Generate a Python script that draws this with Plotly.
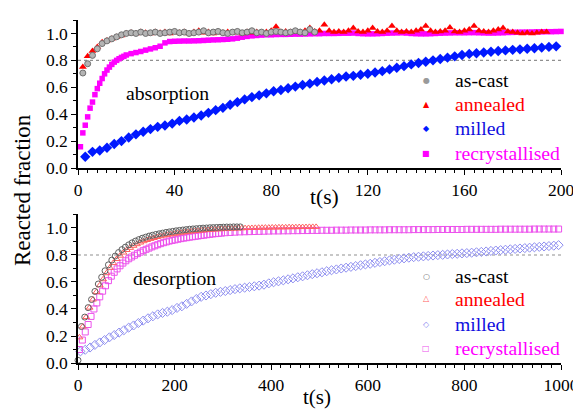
import plotly.graph_objects as go

# ---------------- data: absorption (top) ----------------
ABS_ASCAST_T0, ABS_ASCAST_DT = 2, 2
abs_ascast = [0.706, 0.775, 0.837, 0.886, 0.925, 0.945, 0.96, 0.975, 0.99, 1.0,
              1.005, 1.0, 1.01, 1.0, 1.005, 1.01, 1.0, 1.005, 1.01, 1.015,
              1.005, 1.01, 1.0, 1.005, 1.01, 1.02, 1.005, 1.01, 1.015, 1.005,
              1.0, 1.01, 1.015, 1.005, 1.01, 1.02, 1.005, 1.01, 1.0, 1.01,
              1.015, 1.01, 1.005, 1.01, 1.02, 1.01, 1.005, 1.03, 1.01]

ABS_ANNEALED_T0, ABS_ANNEALED_DT = 2, 2
abs_annealed = [0.75, 0.83, 0.87, 0.90, 0.935, 0.948, 0.96, 0.973, 0.985, 1.0,
                1.005, 1.0, 1.01, 1.005, 1.0, 1.01, 1.005, 1.01, 1.0, 1.01,
                1.005, 1.01, 1.0, 1.01, 1.02, 1.005, 1.01, 1.0, 1.01, 1.005,
                1.01, 1.005, 1.01, 1.0, 1.01, 1.005, 1.01, 1.005, 1.01, 1.02,
                1.05, 1.01, 1.015, 1.01, 1.015, 1.01, 1.02, 1.04, 1.015, 1.02,
                1.065, 1.02, 1.01, 1.015, 1.01, 1.02, 1.04, 1.015, 1.01, 1.02,
                1.04, 1.015, 1.01, 1.02, 1.055, 1.02, 1.01, 1.015, 1.01, 1.02,
                1.03, 1.055, 1.02, 1.01, 1.015, 1.02, 1.045, 1.015, 1.01, 1.02,
                1.03, 1.055, 1.02, 1.015, 1.01, 1.02, 1.03, 1.04, 1.015, 1.01,
                1.005, 1.0, 1.005, 1.0, 1.005, 1.01, 1.01]

ABS_MILLED_T0, ABS_MILLED_DT = 3, 3
abs_milled = [0.084, 0.12, 0.13, 0.15, 0.178, 0.20, 0.227, 0.25, 0.27, 0.289,
              0.306, 0.316, 0.33, 0.35, 0.36, 0.375, 0.39, 0.41, 0.43, 0.447,
              0.47, 0.49, 0.51, 0.527, 0.54, 0.555, 0.57, 0.58, 0.593, 0.605,
              0.617, 0.627, 0.64, 0.65, 0.66, 0.67, 0.68, 0.685, 0.693, 0.70,
              0.71, 0.72, 0.733, 0.745, 0.757, 0.77, 0.78, 0.79, 0.80, 0.81,
              0.82, 0.83, 0.84, 0.848, 0.853, 0.858, 0.864, 0.87, 0.874, 0.878,
              0.882, 0.886, 0.89, 0.895, 0.90, 0.904]

ABS_RECRYST_EARLY_T0, ABS_RECRYST_EARLY_DT = 1, 1
abs_recryst_early = [0.158, 0.261, 0.318, 0.38, 0.445, 0.49, 0.545, 0.59, 0.63, 0.665,
                     0.70, 0.728, 0.75, 0.77, 0.787, 0.80, 0.812, 0.822, 0.83, 0.84]
ABS_RECRYST_LATE_T0, ABS_RECRYST_LATE_DT = 22, 2
abs_recryst_late = [0.85, 0.858, 0.866, 0.876, 0.885, 0.894, 0.905, 0.93, 0.94, 0.942,
                    0.943, 0.944, 0.944, 0.945, 0.946, 0.948, 0.95, 0.952, 0.953, 0.955,
                    0.957, 0.96, 0.965, 0.972, 0.978, 0.982, 0.985, 0.988, 0.99, 0.99,
                    0.992, 0.993, 0.993, 0.994, 0.995, 0.995, 0.996, 0.997, 0.998, 0.998,
                    1.0, 1.0, 1.0, 1.001, 1.002, 1.002, 1.003, 1.0, 0.998, 0.997,
                    0.997, 0.998, 1.0, 1.002, 1.003, 1.004, 1.005, 1.003, 1.0, 0.998,
                    0.997, 0.997, 0.998, 1.0, 1.002, 1.003, 1.004, 1.005, 1.005, 1.005,
                    1.006, 1.006, 1.005, 1.004, 1.003, 1.003, 1.004, 1.005, 1.007, 1.008,
                    1.009, 1.01, 1.01, 1.011, 1.012, 1.012, 1.013, 1.013, 1.014, 1.015]

# ---------------- data: desorption (bottom) ----------------
DES_ASCAST_T0, DES_ASCAST_DT = 0, 7
des_ascast = [0.02, 0.27, 0.34, 0.41, 0.47, 0.53, 0.585, 0.635, 0.683, 0.727,
              0.762, 0.792, 0.818, 0.84, 0.858, 0.875, 0.89, 0.903, 0.914, 0.924,
              0.932, 0.94, 0.946, 0.952, 0.957, 0.962, 0.967, 0.971, 0.975, 0.979,
              0.982, 0.985, 0.988, 0.991, 0.993, 0.995, 0.997, 0.999, 1.0, 1.002,
              1.003, 1.004, 1.005, 1.006, 1.007, 1.007, 1.008, 1.008, 1.008]

DES_ANNEALED_T0, DES_ANNEALED_DT = 3, 7
des_annealed = [0.19, 0.27, 0.34, 0.41, 0.47, 0.525, 0.575, 0.62, 0.665, 0.705,
                0.74, 0.77, 0.795, 0.818, 0.837, 0.853, 0.868, 0.88, 0.892, 0.902,
                0.911, 0.919, 0.926, 0.933, 0.939, 0.944, 0.949, 0.953, 0.957, 0.961,
                0.965, 0.968, 0.971, 0.974, 0.977, 0.979, 0.981, 0.983, 0.985, 0.987,
                0.989, 0.99, 0.991, 0.993, 0.994, 0.995, 0.996, 0.997, 0.998, 0.999,
                1.0, 1.0, 1.001, 1.002, 1.002, 1.003, 1.003, 1.004, 1.004, 1.005,
                1.005, 1.005, 1.006, 1.006, 1.006, 1.007, 1.007, 1.007, 1.008, 1.008,
                1.008]

DES_MILLED_T0, DES_MILLED_DT = 5, 10
des_milled = [0.086, 0.098, 0.115, 0.134, 0.152, 0.17, 0.19, 0.207, 0.225, 0.243,
              0.262, 0.278, 0.296, 0.314, 0.331, 0.346, 0.36, 0.371, 0.38, 0.392,
              0.408, 0.42, 0.438, 0.456, 0.474, 0.49, 0.50, 0.51, 0.52, 0.527,
              0.533, 0.54, 0.547, 0.553, 0.558, 0.563, 0.568, 0.573, 0.58, 0.59,
              0.598, 0.605, 0.612, 0.62, 0.627, 0.635, 0.642, 0.65, 0.658, 0.665,
              0.672, 0.68, 0.687, 0.693, 0.70, 0.706, 0.712, 0.718, 0.724, 0.73,
              0.735, 0.742, 0.748, 0.754, 0.76, 0.765, 0.77, 0.775, 0.78, 0.784,
              0.787, 0.79, 0.793, 0.796, 0.799, 0.801, 0.804, 0.807, 0.809, 0.812,
              0.814, 0.817, 0.82, 0.823, 0.826, 0.83, 0.833, 0.836, 0.839, 0.842,
              0.845, 0.848, 0.851, 0.854, 0.857, 0.86, 0.863, 0.866, 0.869, 0.873]

DES_RECRYST_EARLY_T0, DES_RECRYST_EARLY_DT = 3, 6
des_recryst_early = [0.10, 0.17, 0.23, 0.285, 0.345, 0.40, 0.445, 0.49, 0.532, 0.572,
                     0.61, 0.643, 0.672, 0.697, 0.72, 0.74, 0.757, 0.772, 0.785, 0.798,
                     0.81, 0.821, 0.832, 0.842, 0.851, 0.86, 0.868, 0.876, 0.884, 0.891,
                     0.897, 0.903, 0.908, 0.912, 0.917, 0.921, 0.925, 0.928, 0.932, 0.935,
                     0.938, 0.941, 0.944, 0.947, 0.95, 0.953, 0.956, 0.958, 0.96, 0.962]
DES_RECRYST_LATE_T0, DES_RECRYST_LATE_DT = 305, 10
des_recryst_late = [0.965, 0.967, 0.969, 0.971, 0.972, 0.973, 0.974, 0.975, 0.976, 0.977,
                    0.978, 0.978, 0.979, 0.979, 0.98, 0.98, 0.981, 0.981, 0.982, 0.982,
                    0.983, 0.983, 0.983, 0.984, 0.984, 0.984, 0.985, 0.985, 0.985, 0.985,
                    0.986, 0.986, 0.986, 0.986, 0.987, 0.987, 0.987, 0.987, 0.987, 0.988,
                    0.988, 0.988, 0.988, 0.988, 0.989, 0.989, 0.989, 0.989, 0.989, 0.989,
                    0.99, 0.99, 0.99, 0.99, 0.99, 0.99, 0.99, 0.991, 0.991, 0.991,
                    0.991, 0.991, 0.991, 0.991, 0.992, 0.992, 0.992, 0.992, 0.992, 0.992]

series_names = ["as-cast", "annealed", "milled", "recrystallised"]
text_colors = ["#000000", "#ff0000", "#1010e0", "#ff00ff"]
panel_labels = ["absorption", "desorption"]
THRESHOLD = 0.8

Y_TICKS = [0.0, 0.2, 0.4, 0.6, 0.8, 1.0]
TOP_X_RANGE = [0, 200]
BOT_X_RANGE = [0, 1000]


def times(t0, dt, vals):
    return [t0 + dt * i for i in range(len(vals))]


SERIF = "Liberation Serif"

fig = go.Figure()

# ---- top panel (filled markers) ----
fig.add_trace(go.Scatter(
    x=times(ABS_RECRYST_EARLY_T0, ABS_RECRYST_EARLY_DT, abs_recryst_early)
    + times(ABS_RECRYST_LATE_T0, ABS_RECRYST_LATE_DT, abs_recryst_late),
    y=abs_recryst_early + abs_recryst_late, mode="markers", name=series_names[3],
    marker=dict(symbol="square", size=5.5, color="#ff00ff"),
    xaxis="x", yaxis="y", cliponaxis=False, showlegend=False))
fig.add_trace(go.Scatter(
    x=times(ABS_MILLED_T0, ABS_MILLED_DT, abs_milled), y=abs_milled,
    mode="markers", name=series_names[2],
    marker=dict(symbol="diamond", size=8, color="#0018ff"),
    xaxis="x", yaxis="y", cliponaxis=False, showlegend=False))
fig.add_trace(go.Scatter(
    x=times(ABS_ANNEALED_T0, ABS_ANNEALED_DT, abs_annealed), y=abs_annealed,
    mode="markers", name=series_names[1],
    marker=dict(symbol="triangle-up", size=7, color="#ff0000"),
    xaxis="x", yaxis="y", cliponaxis=False, showlegend=False))
fig.add_trace(go.Scatter(
    x=times(ABS_ASCAST_T0, ABS_ASCAST_DT, abs_ascast), y=abs_ascast,
    mode="markers", name=series_names[0],
    marker=dict(symbol="circle", size=6, color="#b4b4b4",
                line=dict(color="#707070", width=1)),
    xaxis="x", yaxis="y", cliponaxis=False, showlegend=False))

# ---- bottom panel (open markers) ----
fig.add_trace(go.Scatter(
    x=times(DES_MILLED_T0, DES_MILLED_DT, des_milled), y=des_milled,
    mode="markers", name=series_names[2],
    marker=dict(symbol="diamond-open", size=7, color="#8c8cf0", line=dict(width=1)),
    xaxis="x2", yaxis="y2", cliponaxis=False, showlegend=False))
fig.add_trace(go.Scatter(
    x=times(DES_RECRYST_EARLY_T0, DES_RECRYST_EARLY_DT, des_recryst_early)
    + times(DES_RECRYST_LATE_T0, DES_RECRYST_LATE_DT, des_recryst_late),
    y=des_recryst_early + des_recryst_late, mode="markers", name=series_names[3],
    marker=dict(symbol="square-open", size=6, color="#ec50ec", line=dict(width=1)),
    xaxis="x2", yaxis="y2", cliponaxis=False, showlegend=False))
fig.add_trace(go.Scatter(
    x=times(DES_ANNEALED_T0, DES_ANNEALED_DT, des_annealed), y=des_annealed,
    mode="markers", name=series_names[1],
    marker=dict(symbol="triangle-up-open", size=6, color="#ff6060", line=dict(width=1)),
    xaxis="x2", yaxis="y2", cliponaxis=False, showlegend=False))
fig.add_trace(go.Scatter(
    x=times(DES_ASCAST_T0, DES_ASCAST_DT, des_ascast), y=des_ascast,
    mode="markers", name=series_names[0],
    marker=dict(symbol="circle-open", size=6, color="#606060", line=dict(width=1)),
    xaxis="x2", yaxis="y2", cliponaxis=False, showlegend=False))

# ---- threshold dotted lines ----
for xr, yr in (("x", "y"), ("x2", "y2")):
    fig.add_shape(type="line", xref=xr + " domain", yref=yr, x0=0, x1=1,
                  y0=THRESHOLD, y1=THRESHOLD,
                  line=dict(color="#909090", width=1.2, dash="dot"), layer="below")

axis_common = dict(showline=True, linecolor="black", linewidth=1.5, showgrid=False,
                   zeroline=False, ticks="outside", ticklen=5, tickwidth=1.3,
                   tickcolor="black", automargin=False,
                   tickfont=dict(family=SERIF, size=17.5, color="black"))

# the page body adds an 8px offset, so the figure is 8px smaller than the window
fig.update_layout(
    width=573, height=404,
    margin=dict(l=70, r=20, t=12, b=49),
    paper_bgcolor="white", plot_bgcolor="white",
    font=dict(family=SERIF, color="black"),
    xaxis=dict(domain=[0, 1], anchor="y", range=TOP_X_RANGE, tick0=0, dtick=40,
               minor=dict(dtick=4, ticklen=3, tickwidth=1, ticks="outside",
                          tickcolor="black"), **axis_common),
    yaxis=dict(domain=[0.5685, 1], anchor="x", range=[0, 1.1], tickvals=Y_TICKS,
               tickformat=".1f",
               minor=dict(dtick=0.1, ticklen=3, tickwidth=1, ticks="outside",
                          tickcolor="black"), **axis_common),
    xaxis2=dict(domain=[0, 1], anchor="y2", range=BOT_X_RANGE, tick0=0, dtick=200,
                minor=dict(dtick=20, ticklen=3, tickwidth=1, ticks="outside",
                           tickcolor="black"), **axis_common),
    yaxis2=dict(domain=[0, 0.433], anchor="x2", range=[0, 1.1], tickvals=Y_TICKS,
                tickformat=".1f",
                minor=dict(dtick=0.1, ticklen=3, tickwidth=1, ticks="outside",
                           tickcolor="black"), **axis_common),
    showlegend=False,
)


def note(text, x, y, size, color="black", xref="paper", yref="paper",
         xanchor="center", family=SERIF, angle=0):
    return dict(text=text, x=x, y=y, xref=xref, yref=yref, xanchor=xanchor,
                yanchor="middle", textangle=angle, showarrow=False,
                font=dict(family=family, size=size, color=color))


ann = []
# panel labels
ann.append(note(panel_labels[0], 37, 0.56, 19.7, xref="x", yref="y"))
ann.append(note(panel_labels[1], 199, 0.63, 19.7, xref="x2", yref="y2"))
# axis titles
ann.append(note("t(s)", 0.511, 0.485, 21.5))
ann.append(note("t(s)", 0.495, -0.1, 21))
ann.append(note("Reacted fraction", -0.116, 0.504, 23, angle=-90))

# legends (symbol + coloured text)
top_symbols = ["●", "▲", "◆", "■"]
top_symbol_colors = ["#9a9a9a", "#ff0000", "#0018ff", "#ff00ff"]
bot_symbols = ["○", "△", "◇", "□"]
bot_symbol_colors = ["#707070", "#ff6060", "#8c8cf0", "#ec50ec"]
top_rows = [0.825, 0.755, 0.685, 0.612]
bot_rows = [0.2536, 0.1866, 0.1137, 0.0437]
SYM_X, TXT_X = 0.7205, 0.7764
for rows, syms, scols in ((top_rows, top_symbols, top_symbol_colors),
                          (bot_rows, bot_symbols, bot_symbol_colors)):
    for i, name in enumerate(series_names):
        ann.append(note(syms[i], SYM_X, rows[i], 8, color=scols[i],
                        family="DejaVu Sans"))
        ann.append(note(name, TXT_X, rows[i], 19.7, color=text_colors[i],
                        xanchor="left"))

fig.update_layout(annotations=ann)
fig.write_html("out.html")
